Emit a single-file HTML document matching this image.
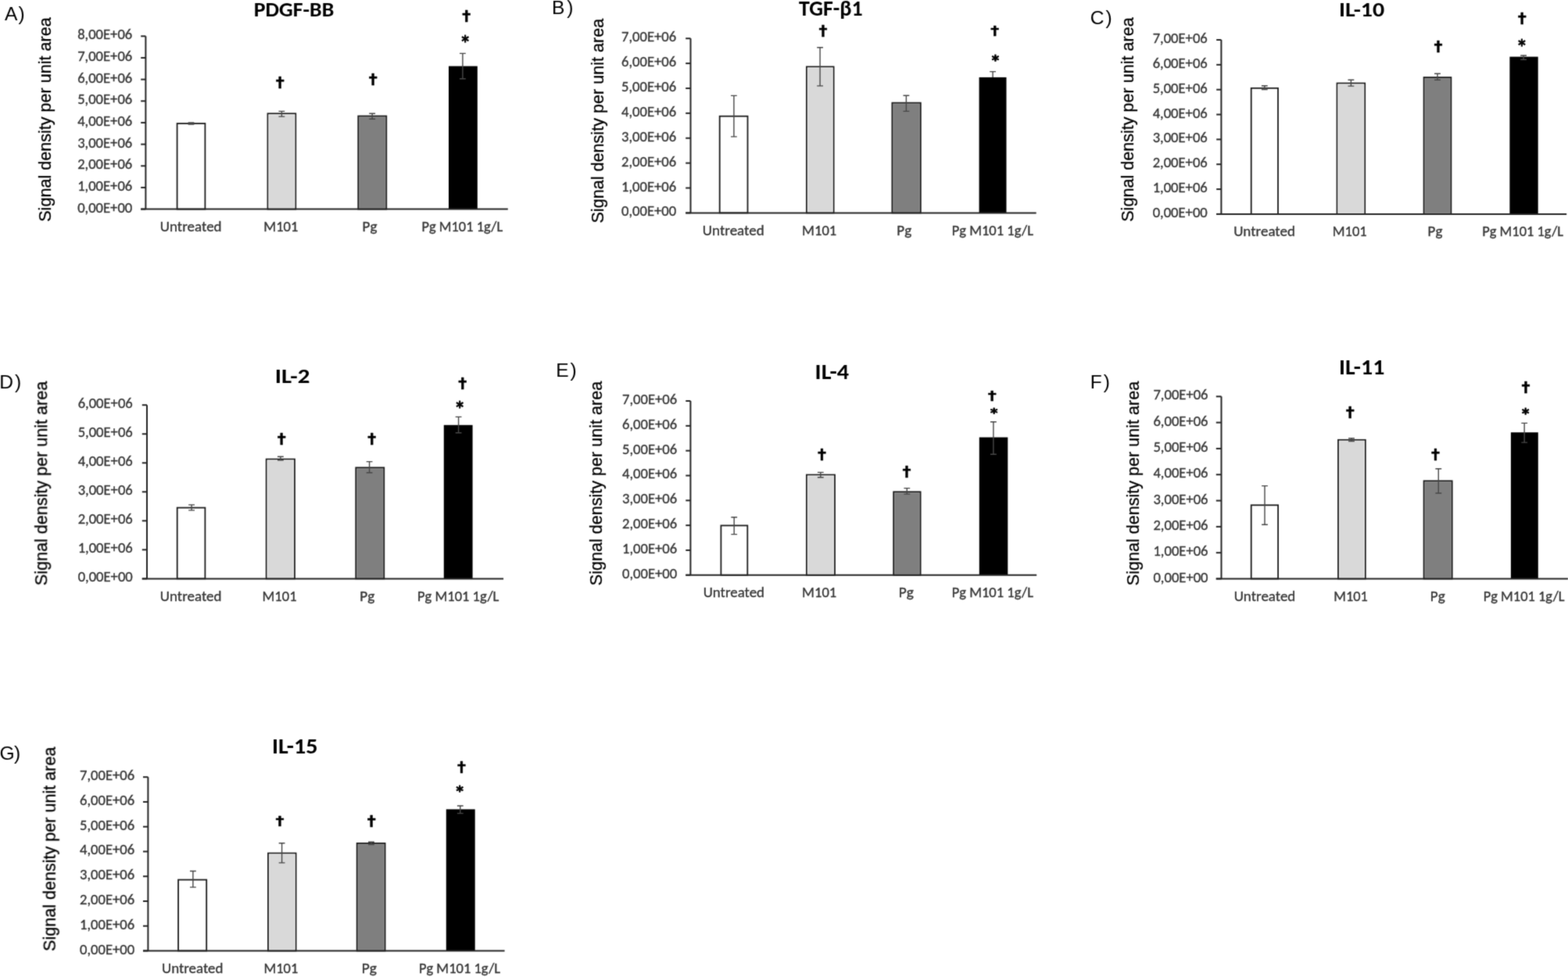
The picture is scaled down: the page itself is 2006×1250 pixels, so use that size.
<!DOCTYPE html>
<html><head><meta charset="utf-8"><title>Signal density charts</title>
<style>html,body{margin:0;padding:0;background:#fff;}svg{display:block;}</style></head>
<body><svg width="2006" height="1250" viewBox="0 0 2006 1250">
<defs><filter id="soft" x="0" y="0" width="2006" height="1250" filterUnits="userSpaceOnUse" color-interpolation-filters="sRGB"><feConvolveMatrix order="3" kernelMatrix="0.0225 0.1050 0.0225 0.1050 0.4900 0.1050 0.0225 0.1050 0.0225" edgeMode="none"/></filter></defs>
<rect x="0" y="0" width="2006" height="1250" fill="#fff"/>
<g filter="url(#soft)">
<text x="6.10" y="25.60" font-family='"Liberation Sans", sans-serif' font-size="24.6" fill="#000">A<tspan dx="1.0">)</tspan></text>
<text x="324.71" y="21.03" font-family='"Carlito", "Liberation Sans", sans-serif' font-weight="bold" font-size="26.72" fill="#000" textLength="102.60" lengthAdjust="spacingAndGlyphs">PDGF-BB</text>
<text transform="translate(64.59,283.78) rotate(-90)" x="0" y="0" font-family='"Liberation Sans", sans-serif' font-size="22.45" fill="#000" stroke="#000" stroke-width="0.3" textLength="261.55" lengthAdjust="spacingAndGlyphs">Signal density per unit area</text>
<text x="99.14" y="271.60" font-family='"Carlito", "Liberation Sans", sans-serif' font-weight="normal" font-size="18.60" fill="#383838" stroke="#383838" stroke-width="0.35" textLength="70.12" lengthAdjust="spacingAndGlyphs">0,00E+00</text>
<text x="99.14" y="243.94" font-family='"Carlito", "Liberation Sans", sans-serif' font-weight="normal" font-size="18.60" fill="#383838" stroke="#383838" stroke-width="0.35" textLength="70.12" lengthAdjust="spacingAndGlyphs">1,00E+06</text>
<text x="99.14" y="216.28" font-family='"Carlito", "Liberation Sans", sans-serif' font-weight="normal" font-size="18.60" fill="#383838" stroke="#383838" stroke-width="0.35" textLength="70.12" lengthAdjust="spacingAndGlyphs">2,00E+06</text>
<text x="99.14" y="188.61" font-family='"Carlito", "Liberation Sans", sans-serif' font-weight="normal" font-size="18.60" fill="#383838" stroke="#383838" stroke-width="0.35" textLength="70.12" lengthAdjust="spacingAndGlyphs">3,00E+06</text>
<text x="99.14" y="160.95" font-family='"Carlito", "Liberation Sans", sans-serif' font-weight="normal" font-size="18.60" fill="#383838" stroke="#383838" stroke-width="0.35" textLength="70.12" lengthAdjust="spacingAndGlyphs">4,00E+06</text>
<text x="99.14" y="133.29" font-family='"Carlito", "Liberation Sans", sans-serif' font-weight="normal" font-size="18.60" fill="#383838" stroke="#383838" stroke-width="0.35" textLength="70.12" lengthAdjust="spacingAndGlyphs">5,00E+06</text>
<text x="99.14" y="105.62" font-family='"Carlito", "Liberation Sans", sans-serif' font-weight="normal" font-size="18.60" fill="#383838" stroke="#383838" stroke-width="0.35" textLength="70.12" lengthAdjust="spacingAndGlyphs">6,00E+06</text>
<text x="99.14" y="77.96" font-family='"Carlito", "Liberation Sans", sans-serif' font-weight="normal" font-size="18.60" fill="#383838" stroke="#383838" stroke-width="0.35" textLength="70.12" lengthAdjust="spacingAndGlyphs">7,00E+06</text>
<text x="99.14" y="50.30" font-family='"Carlito", "Liberation Sans", sans-serif' font-weight="normal" font-size="18.60" fill="#383838" stroke="#383838" stroke-width="0.35" textLength="70.12" lengthAdjust="spacingAndGlyphs">8,00E+06</text>
<text x="204.87" y="296.10" font-family='"Carlito", "Liberation Sans", sans-serif' font-weight="normal" font-size="18.90" fill="#383838" stroke="#383838" stroke-width="0.35" textLength="78.71" lengthAdjust="spacingAndGlyphs">Untreated</text>
<text x="337.31" y="296.10" font-family='"Carlito", "Liberation Sans", sans-serif' font-weight="normal" font-size="18.90" fill="#383838" stroke="#383838" stroke-width="0.35" textLength="44.13" lengthAdjust="spacingAndGlyphs">M101</text>
<text x="463.56" y="296.10" font-family='"Carlito", "Liberation Sans", sans-serif' font-weight="normal" font-size="18.90" fill="#383838" stroke="#383838" stroke-width="0.35" textLength="18.87" lengthAdjust="spacingAndGlyphs">Pg</text>
<text x="539.41" y="296.10" font-family='"Carlito", "Liberation Sans", sans-serif' font-weight="normal" font-size="18.90" fill="#383838" stroke="#383838" stroke-width="0.35" textLength="103.76" lengthAdjust="spacingAndGlyphs">Pg M101 1g/L</text>
<rect x="226.60" y="158.00" width="35.80" height="109.60" fill="#ffffff" stroke="#1c1c1c" stroke-width="1.8"/>
<rect x="342.50" y="145.30" width="35.80" height="122.30" fill="#d9d9d9" stroke="#1c1c1c" stroke-width="1.8"/>
<rect x="344.00" y="146.80" width="32.80" height="119.30" fill="none" stroke="#e4e4e4" stroke-width="1.1"/>
<rect x="458.30" y="148.50" width="36.00" height="119.10" fill="#7f7f7f" stroke="#1c1c1c" stroke-width="1.8"/>
<rect x="459.80" y="150.00" width="33.00" height="116.10" fill="none" stroke="#8b8b8b" stroke-width="1.1"/>
<rect x="574.00" y="84.60" width="36.80" height="183.00" fill="#000"/>
<path d="M186.40 46.30 V267.60" stroke="#262626" stroke-width="2.0" fill="none"/>
<path d="M180.20 267.60 H186.40" stroke="#262626" stroke-width="2.0"/>
<path d="M180.20 239.94 H186.40" stroke="#262626" stroke-width="2.0"/>
<path d="M180.20 212.28 H186.40" stroke="#262626" stroke-width="2.0"/>
<path d="M180.20 184.61 H186.40" stroke="#262626" stroke-width="2.0"/>
<path d="M180.20 156.95 H186.40" stroke="#262626" stroke-width="2.0"/>
<path d="M180.20 129.29 H186.40" stroke="#262626" stroke-width="2.0"/>
<path d="M180.20 101.62 H186.40" stroke="#262626" stroke-width="2.0"/>
<path d="M180.20 73.96 H186.40" stroke="#262626" stroke-width="2.0"/>
<path d="M180.20 46.30 H186.40" stroke="#262626" stroke-width="2.0"/>
<path d="M180.20 267.60 H649.80" stroke="#262626" stroke-width="2.0"/>
<path d="M244.50 157.00 V159.00 M240.60 157.00 H248.40 M240.60 159.00 H248.40" stroke="#474747" stroke-width="1.4" fill="none"/>
<path d="M360.40 142.40 V149.10 M356.50 142.40 H364.30 M356.50 149.10 H364.30" stroke="#474747" stroke-width="1.4" fill="none"/>
<path d="M476.20 145.30 V152.30 M472.30 145.30 H480.10 M472.30 152.30 H480.10" stroke="#474747" stroke-width="1.4" fill="none"/>
<path d="M591.90 68.40 V100.80 M588.00 68.40 H595.80 M588.00 100.80 H595.80" stroke="#474747" stroke-width="1.4" fill="none"/>
<text x="352.79" y="113.40" font-family='"Roboto", "DejaVu Sans", sans-serif' font-weight="bold" font-size="19.86" fill="#000" stroke="#000" stroke-width="0.4" stroke-linejoin="round" textLength="10.99" lengthAdjust="spacingAndGlyphs">†</text>
<text x="471.69" y="108.60" font-family='"Roboto", "DejaVu Sans", sans-serif' font-weight="bold" font-size="19.86" fill="#000" stroke="#000" stroke-width="0.4" stroke-linejoin="round" textLength="10.99" lengthAdjust="spacingAndGlyphs">†</text>
<text x="591.29" y="28.00" font-family='"Roboto", "DejaVu Sans", sans-serif' font-weight="bold" font-size="20.28" fill="#000" stroke="#000" stroke-width="0.4" stroke-linejoin="round" textLength="10.99" lengthAdjust="spacingAndGlyphs">†</text>
<text x="590.54" y="59.20" font-family='"DejaVu Sans", sans-serif' font-weight="bold" font-size="20.00" fill="#000" stroke="#000" stroke-width="0.8" stroke-linejoin="round" textLength="9.37" lengthAdjust="spacingAndGlyphs">*</text>
<text x="706.03" y="18.00" font-family='"Liberation Sans", sans-serif' font-size="24.6" fill="#000">B<tspan dx="2.8">)</tspan></text>
<text x="1022.12" y="19.60" font-family='"Carlito", "Liberation Sans", sans-serif' font-weight="bold" font-size="27.48" fill="#000" textLength="81.59" lengthAdjust="spacingAndGlyphs">TGF-β1</text>
<text transform="translate(771.79,285.58) rotate(-90)" x="0" y="0" font-family='"Liberation Sans", sans-serif' font-size="22.45" fill="#000" stroke="#000" stroke-width="0.3" textLength="261.85" lengthAdjust="spacingAndGlyphs">Signal density per unit area</text>
<text x="795.04" y="276.40" font-family='"Carlito", "Liberation Sans", sans-serif' font-weight="normal" font-size="18.60" fill="#383838" stroke="#383838" stroke-width="0.35" textLength="70.12" lengthAdjust="spacingAndGlyphs">0,00E+00</text>
<text x="795.04" y="244.51" font-family='"Carlito", "Liberation Sans", sans-serif' font-weight="normal" font-size="18.60" fill="#383838" stroke="#383838" stroke-width="0.35" textLength="70.12" lengthAdjust="spacingAndGlyphs">1,00E+06</text>
<text x="795.04" y="212.63" font-family='"Carlito", "Liberation Sans", sans-serif' font-weight="normal" font-size="18.60" fill="#383838" stroke="#383838" stroke-width="0.35" textLength="70.12" lengthAdjust="spacingAndGlyphs">2,00E+06</text>
<text x="795.04" y="180.74" font-family='"Carlito", "Liberation Sans", sans-serif' font-weight="normal" font-size="18.60" fill="#383838" stroke="#383838" stroke-width="0.35" textLength="70.12" lengthAdjust="spacingAndGlyphs">3,00E+06</text>
<text x="795.04" y="148.86" font-family='"Carlito", "Liberation Sans", sans-serif' font-weight="normal" font-size="18.60" fill="#383838" stroke="#383838" stroke-width="0.35" textLength="70.12" lengthAdjust="spacingAndGlyphs">4,00E+06</text>
<text x="795.04" y="116.97" font-family='"Carlito", "Liberation Sans", sans-serif' font-weight="normal" font-size="18.60" fill="#383838" stroke="#383838" stroke-width="0.35" textLength="70.12" lengthAdjust="spacingAndGlyphs">5,00E+06</text>
<text x="795.04" y="85.09" font-family='"Carlito", "Liberation Sans", sans-serif' font-weight="normal" font-size="18.60" fill="#383838" stroke="#383838" stroke-width="0.35" textLength="70.12" lengthAdjust="spacingAndGlyphs">6,00E+06</text>
<text x="795.04" y="53.20" font-family='"Carlito", "Liberation Sans", sans-serif' font-weight="normal" font-size="18.60" fill="#383838" stroke="#383838" stroke-width="0.35" textLength="70.12" lengthAdjust="spacingAndGlyphs">7,00E+06</text>
<text x="898.87" y="300.60" font-family='"Carlito", "Liberation Sans", sans-serif' font-weight="normal" font-size="18.90" fill="#383838" stroke="#383838" stroke-width="0.35" textLength="78.81" lengthAdjust="spacingAndGlyphs">Untreated</text>
<text x="1026.11" y="300.60" font-family='"Carlito", "Liberation Sans", sans-serif' font-weight="normal" font-size="18.90" fill="#383838" stroke="#383838" stroke-width="0.35" textLength="44.13" lengthAdjust="spacingAndGlyphs">M101</text>
<text x="1147.36" y="300.60" font-family='"Carlito", "Liberation Sans", sans-serif' font-weight="normal" font-size="18.90" fill="#383838" stroke="#383838" stroke-width="0.35" textLength="18.87" lengthAdjust="spacingAndGlyphs">Pg</text>
<text x="1217.70" y="300.60" font-family='"Carlito", "Liberation Sans", sans-serif' font-weight="normal" font-size="18.90" fill="#383838" stroke="#383838" stroke-width="0.35" textLength="104.27" lengthAdjust="spacingAndGlyphs">Pg M101 1g/L</text>
<rect x="920.70" y="148.70" width="35.80" height="123.70" fill="#ffffff" stroke="#1c1c1c" stroke-width="1.8"/>
<rect x="1031.90" y="85.40" width="34.70" height="187.00" fill="#d9d9d9" stroke="#1c1c1c" stroke-width="1.8"/>
<rect x="1033.40" y="86.90" width="31.70" height="184.00" fill="none" stroke="#e4e4e4" stroke-width="1.1"/>
<rect x="1141.40" y="131.60" width="36.40" height="140.80" fill="#7f7f7f" stroke="#1c1c1c" stroke-width="1.8"/>
<rect x="1142.90" y="133.10" width="33.40" height="137.80" fill="none" stroke="#8b8b8b" stroke-width="1.1"/>
<rect x="1252.60" y="98.90" width="34.90" height="173.50" fill="#000"/>
<path d="M883.50 49.20 V272.40" stroke="#262626" stroke-width="2.0" fill="none"/>
<path d="M877.20 272.40 H883.50" stroke="#262626" stroke-width="2.0"/>
<path d="M877.20 240.51 H883.50" stroke="#262626" stroke-width="2.0"/>
<path d="M877.20 208.63 H883.50" stroke="#262626" stroke-width="2.0"/>
<path d="M877.20 176.74 H883.50" stroke="#262626" stroke-width="2.0"/>
<path d="M877.20 144.86 H883.50" stroke="#262626" stroke-width="2.0"/>
<path d="M877.20 112.97 H883.50" stroke="#262626" stroke-width="2.0"/>
<path d="M877.20 81.09 H883.50" stroke="#262626" stroke-width="2.0"/>
<path d="M877.20 49.20 H883.50" stroke="#262626" stroke-width="2.0"/>
<path d="M877.20 272.40 H1325.70" stroke="#262626" stroke-width="2.0"/>
<path d="M938.90 122.40 V174.90 M935.00 122.40 H942.80 M935.00 174.90 H942.80" stroke="#474747" stroke-width="1.4" fill="none"/>
<path d="M1049.10 60.80 V109.90 M1045.20 60.80 H1053.00 M1045.20 109.90 H1053.00" stroke="#474747" stroke-width="1.4" fill="none"/>
<path d="M1159.40 122.30 V142.40 M1155.50 122.30 H1163.30 M1155.50 142.40 H1163.30" stroke="#474747" stroke-width="1.4" fill="none"/>
<path d="M1270.10 91.60 V98.90 M1266.20 91.60 H1274.00" stroke="#474747" stroke-width="1.4" fill="none"/>
<text x="1047.49" y="46.60" font-family='"Roboto", "DejaVu Sans", sans-serif' font-weight="bold" font-size="19.44" fill="#000" stroke="#000" stroke-width="0.4" stroke-linejoin="round" textLength="10.99" lengthAdjust="spacingAndGlyphs">†</text>
<text x="1267.29" y="46.40" font-family='"Roboto", "DejaVu Sans", sans-serif' font-weight="bold" font-size="19.17" fill="#000" stroke="#000" stroke-width="0.4" stroke-linejoin="round" textLength="10.99" lengthAdjust="spacingAndGlyphs">†</text>
<text x="1268.74" y="83.16" font-family='"DejaVu Sans", sans-serif' font-weight="bold" font-size="18.09" fill="#000" stroke="#000" stroke-width="0.8" stroke-linejoin="round" textLength="9.37" lengthAdjust="spacingAndGlyphs">*</text>
<text x="1394.77" y="30.60" font-family='"Liberation Sans", sans-serif' font-size="24.6" fill="#000">C<tspan dx="2.0">)</tspan></text>
<text x="1712.90" y="21.33" font-family='"Carlito", "Liberation Sans", sans-serif' font-weight="bold" font-size="26.87" fill="#000" textLength="58.39" lengthAdjust="spacingAndGlyphs">IL-10</text>
<text transform="translate(1450.29,283.78) rotate(-90)" x="0" y="0" font-family='"Liberation Sans", sans-serif' font-size="22.45" fill="#000" stroke="#000" stroke-width="0.3" textLength="261.55" lengthAdjust="spacingAndGlyphs">Signal density per unit area</text>
<text x="1474.64" y="277.90" font-family='"Carlito", "Liberation Sans", sans-serif' font-weight="normal" font-size="18.60" fill="#383838" stroke="#383838" stroke-width="0.35" textLength="70.12" lengthAdjust="spacingAndGlyphs">0,00E+00</text>
<text x="1474.64" y="246.06" font-family='"Carlito", "Liberation Sans", sans-serif' font-weight="normal" font-size="18.60" fill="#383838" stroke="#383838" stroke-width="0.35" textLength="70.12" lengthAdjust="spacingAndGlyphs">1,00E+06</text>
<text x="1474.64" y="214.21" font-family='"Carlito", "Liberation Sans", sans-serif' font-weight="normal" font-size="18.60" fill="#383838" stroke="#383838" stroke-width="0.35" textLength="70.12" lengthAdjust="spacingAndGlyphs">2,00E+06</text>
<text x="1474.64" y="182.37" font-family='"Carlito", "Liberation Sans", sans-serif' font-weight="normal" font-size="18.60" fill="#383838" stroke="#383838" stroke-width="0.35" textLength="70.12" lengthAdjust="spacingAndGlyphs">3,00E+06</text>
<text x="1474.64" y="150.53" font-family='"Carlito", "Liberation Sans", sans-serif' font-weight="normal" font-size="18.60" fill="#383838" stroke="#383838" stroke-width="0.35" textLength="70.12" lengthAdjust="spacingAndGlyphs">4,00E+06</text>
<text x="1474.64" y="118.69" font-family='"Carlito", "Liberation Sans", sans-serif' font-weight="normal" font-size="18.60" fill="#383838" stroke="#383838" stroke-width="0.35" textLength="70.12" lengthAdjust="spacingAndGlyphs">5,00E+06</text>
<text x="1474.64" y="86.84" font-family='"Carlito", "Liberation Sans", sans-serif' font-weight="normal" font-size="18.60" fill="#383838" stroke="#383838" stroke-width="0.35" textLength="70.12" lengthAdjust="spacingAndGlyphs">6,00E+06</text>
<text x="1474.64" y="55.00" font-family='"Carlito", "Liberation Sans", sans-serif' font-weight="normal" font-size="18.60" fill="#383838" stroke="#383838" stroke-width="0.35" textLength="70.12" lengthAdjust="spacingAndGlyphs">7,00E+06</text>
<text x="1578.17" y="301.60" font-family='"Carlito", "Liberation Sans", sans-serif' font-weight="normal" font-size="18.90" fill="#383838" stroke="#383838" stroke-width="0.35" textLength="78.81" lengthAdjust="spacingAndGlyphs">Untreated</text>
<text x="1704.82" y="301.60" font-family='"Carlito", "Liberation Sans", sans-serif' font-weight="normal" font-size="18.90" fill="#383838" stroke="#383838" stroke-width="0.35" textLength="43.92" lengthAdjust="spacingAndGlyphs">M101</text>
<text x="1826.57" y="301.60" font-family='"Carlito", "Liberation Sans", sans-serif' font-weight="normal" font-size="18.90" fill="#383838" stroke="#383838" stroke-width="0.35" textLength="18.76" lengthAdjust="spacingAndGlyphs">Pg</text>
<text x="1896.21" y="301.60" font-family='"Carlito", "Liberation Sans", sans-serif' font-weight="normal" font-size="18.90" fill="#383838" stroke="#383838" stroke-width="0.35" textLength="103.86" lengthAdjust="spacingAndGlyphs">Pg M101 1g/L</text>
<rect x="1600.70" y="112.80" width="34.30" height="161.10" fill="#ffffff" stroke="#1c1c1c" stroke-width="1.8"/>
<rect x="1710.50" y="106.50" width="35.70" height="167.40" fill="#d9d9d9" stroke="#1c1c1c" stroke-width="1.8"/>
<rect x="1712.00" y="108.00" width="32.70" height="164.40" fill="none" stroke="#e4e4e4" stroke-width="1.1"/>
<rect x="1821.60" y="99.00" width="34.80" height="174.90" fill="#7f7f7f" stroke="#1c1c1c" stroke-width="1.8"/>
<rect x="1823.10" y="100.50" width="31.80" height="171.90" fill="none" stroke="#8b8b8b" stroke-width="1.1"/>
<rect x="1931.40" y="72.60" width="36.30" height="201.30" fill="#000"/>
<path d="M1562.40 51.00 V273.90" stroke="#262626" stroke-width="2.0" fill="none"/>
<path d="M1556.20 273.90 H1562.40" stroke="#262626" stroke-width="2.0"/>
<path d="M1556.20 242.06 H1562.40" stroke="#262626" stroke-width="2.0"/>
<path d="M1556.20 210.21 H1562.40" stroke="#262626" stroke-width="2.0"/>
<path d="M1556.20 178.37 H1562.40" stroke="#262626" stroke-width="2.0"/>
<path d="M1556.20 146.53 H1562.40" stroke="#262626" stroke-width="2.0"/>
<path d="M1556.20 114.69 H1562.40" stroke="#262626" stroke-width="2.0"/>
<path d="M1556.20 82.84 H1562.40" stroke="#262626" stroke-width="2.0"/>
<path d="M1556.20 51.00 H1562.40" stroke="#262626" stroke-width="2.0"/>
<path d="M1556.20 273.90 H2004.20" stroke="#262626" stroke-width="2.0"/>
<path d="M1617.80 109.80 V114.60 M1613.90 109.80 H1621.70 M1613.90 114.60 H1621.70" stroke="#474747" stroke-width="1.4" fill="none"/>
<path d="M1728.40 102.20 V110.10 M1724.50 102.20 H1732.30 M1724.50 110.10 H1732.30" stroke="#474747" stroke-width="1.4" fill="none"/>
<path d="M1839.00 94.20 V102.20 M1835.10 94.20 H1842.90 M1835.10 102.20 H1842.90" stroke="#474747" stroke-width="1.4" fill="none"/>
<path d="M1949.10 71.00 V76.20 M1945.20 71.00 H1953.00 M1945.20 76.20 H1953.00" stroke="#474747" stroke-width="1.4" fill="none"/>
<text x="1834.59" y="67.00" font-family='"Roboto", "DejaVu Sans", sans-serif' font-weight="bold" font-size="20.28" fill="#000" stroke="#000" stroke-width="0.4" stroke-linejoin="round" textLength="10.99" lengthAdjust="spacingAndGlyphs">†</text>
<text x="1941.89" y="31.20" font-family='"Roboto", "DejaVu Sans", sans-serif' font-weight="bold" font-size="20.00" fill="#000" stroke="#000" stroke-width="0.4" stroke-linejoin="round" textLength="10.99" lengthAdjust="spacingAndGlyphs">†</text>
<text x="1942.34" y="63.76" font-family='"DejaVu Sans", sans-serif' font-weight="bold" font-size="19.15" fill="#000" stroke="#000" stroke-width="0.8" stroke-linejoin="round" textLength="9.37" lengthAdjust="spacingAndGlyphs">*</text>
<text x="-0.77" y="497.20" font-family='"Liberation Sans", sans-serif' font-size="24.6" fill="#000">D<tspan dx="2.0">)</tspan></text>
<text x="351.73" y="489.70" font-family='"Carlito", "Liberation Sans", sans-serif' font-weight="bold" font-size="26.52" fill="#000" textLength="44.69" lengthAdjust="spacingAndGlyphs">IL-2</text>
<text transform="translate(60.17,749.18) rotate(-90)" x="0" y="0" font-family='"Liberation Sans", sans-serif' font-size="22.98" fill="#000" stroke="#000" stroke-width="0.3" textLength="261.55" lengthAdjust="spacingAndGlyphs">Signal density per unit area</text>
<text x="99.64" y="744.40" font-family='"Carlito", "Liberation Sans", sans-serif' font-weight="normal" font-size="18.60" fill="#383838" stroke="#383838" stroke-width="0.35" textLength="70.12" lengthAdjust="spacingAndGlyphs">0,00E+00</text>
<text x="99.64" y="707.37" font-family='"Carlito", "Liberation Sans", sans-serif' font-weight="normal" font-size="18.60" fill="#383838" stroke="#383838" stroke-width="0.35" textLength="70.12" lengthAdjust="spacingAndGlyphs">1,00E+06</text>
<text x="99.64" y="670.33" font-family='"Carlito", "Liberation Sans", sans-serif' font-weight="normal" font-size="18.60" fill="#383838" stroke="#383838" stroke-width="0.35" textLength="70.12" lengthAdjust="spacingAndGlyphs">2,00E+06</text>
<text x="99.64" y="633.30" font-family='"Carlito", "Liberation Sans", sans-serif' font-weight="normal" font-size="18.60" fill="#383838" stroke="#383838" stroke-width="0.35" textLength="70.12" lengthAdjust="spacingAndGlyphs">3,00E+06</text>
<text x="99.64" y="596.27" font-family='"Carlito", "Liberation Sans", sans-serif' font-weight="normal" font-size="18.60" fill="#383838" stroke="#383838" stroke-width="0.35" textLength="70.12" lengthAdjust="spacingAndGlyphs">4,00E+06</text>
<text x="99.64" y="559.23" font-family='"Carlito", "Liberation Sans", sans-serif' font-weight="normal" font-size="18.60" fill="#383838" stroke="#383838" stroke-width="0.35" textLength="70.12" lengthAdjust="spacingAndGlyphs">5,00E+06</text>
<text x="99.64" y="522.20" font-family='"Carlito", "Liberation Sans", sans-serif' font-weight="normal" font-size="18.60" fill="#383838" stroke="#383838" stroke-width="0.35" textLength="70.12" lengthAdjust="spacingAndGlyphs">6,00E+06</text>
<text x="204.87" y="769.10" font-family='"Carlito", "Liberation Sans", sans-serif' font-weight="normal" font-size="18.90" fill="#383838" stroke="#383838" stroke-width="0.35" textLength="78.61" lengthAdjust="spacingAndGlyphs">Untreated</text>
<text x="335.52" y="769.10" font-family='"Carlito", "Liberation Sans", sans-serif' font-weight="normal" font-size="18.90" fill="#383838" stroke="#383838" stroke-width="0.35" textLength="44.03" lengthAdjust="spacingAndGlyphs">M101</text>
<text x="460.35" y="769.10" font-family='"Carlito", "Liberation Sans", sans-serif' font-weight="normal" font-size="18.90" fill="#383838" stroke="#383838" stroke-width="0.35" textLength="19.09" lengthAdjust="spacingAndGlyphs">Pg</text>
<text x="533.90" y="769.10" font-family='"Carlito", "Liberation Sans", sans-serif' font-weight="normal" font-size="18.90" fill="#383838" stroke="#383838" stroke-width="0.35" textLength="104.47" lengthAdjust="spacingAndGlyphs">Pg M101 1g/L</text>
<rect x="226.70" y="649.60" width="35.70" height="90.80" fill="#ffffff" stroke="#1c1c1c" stroke-width="1.8"/>
<rect x="340.70" y="587.50" width="36.30" height="152.90" fill="#d9d9d9" stroke="#1c1c1c" stroke-width="1.8"/>
<rect x="342.20" y="589.00" width="33.30" height="149.90" fill="none" stroke="#e4e4e4" stroke-width="1.1"/>
<rect x="455.30" y="598.30" width="36.00" height="142.10" fill="#7f7f7f" stroke="#1c1c1c" stroke-width="1.8"/>
<rect x="456.80" y="599.80" width="33.00" height="139.10" fill="none" stroke="#8b8b8b" stroke-width="1.1"/>
<rect x="567.80" y="543.80" width="36.80" height="196.60" fill="#000"/>
<path d="M188.00 518.20 V740.40" stroke="#262626" stroke-width="2.0" fill="none"/>
<path d="M181.80 740.40 H188.00" stroke="#262626" stroke-width="2.0"/>
<path d="M181.80 703.37 H188.00" stroke="#262626" stroke-width="2.0"/>
<path d="M181.80 666.33 H188.00" stroke="#262626" stroke-width="2.0"/>
<path d="M181.80 629.30 H188.00" stroke="#262626" stroke-width="2.0"/>
<path d="M181.80 592.27 H188.00" stroke="#262626" stroke-width="2.0"/>
<path d="M181.80 555.23 H188.00" stroke="#262626" stroke-width="2.0"/>
<path d="M181.80 518.20 H188.00" stroke="#262626" stroke-width="2.0"/>
<path d="M181.80 740.40 H644.10" stroke="#262626" stroke-width="2.0"/>
<path d="M245.10 645.90 V652.90 M241.20 645.90 H249.00 M241.20 652.90 H249.00" stroke="#474747" stroke-width="1.4" fill="none"/>
<path d="M358.90 584.20 V588.70 M355.00 584.20 H362.80 M355.00 588.70 H362.80" stroke="#474747" stroke-width="1.4" fill="none"/>
<path d="M472.60 590.60 V604.70 M468.70 590.60 H476.50 M468.70 604.70 H476.50" stroke="#474747" stroke-width="1.4" fill="none"/>
<path d="M586.60 533.40 V553.80 M582.70 533.40 H590.50 M582.70 553.80 H590.50" stroke="#474747" stroke-width="1.4" fill="none"/>
<text x="354.89" y="569.30" font-family='"Roboto", "DejaVu Sans", sans-serif' font-weight="bold" font-size="19.86" fill="#000" stroke="#000" stroke-width="0.4" stroke-linejoin="round" textLength="10.99" lengthAdjust="spacingAndGlyphs">†</text>
<text x="470.29" y="569.30" font-family='"Roboto", "DejaVu Sans", sans-serif' font-weight="bold" font-size="19.86" fill="#000" stroke="#000" stroke-width="0.4" stroke-linejoin="round" textLength="10.99" lengthAdjust="spacingAndGlyphs">†</text>
<text x="586.29" y="498.00" font-family='"Roboto", "DejaVu Sans", sans-serif' font-weight="bold" font-size="20.00" fill="#000" stroke="#000" stroke-width="0.4" stroke-linejoin="round" textLength="10.99" lengthAdjust="spacingAndGlyphs">†</text>
<text x="583.44" y="527.04" font-family='"DejaVu Sans", sans-serif' font-weight="bold" font-size="18.72" fill="#000" stroke="#000" stroke-width="0.8" stroke-linejoin="round" textLength="9.37" lengthAdjust="spacingAndGlyphs">*</text>
<text x="711.23" y="481.80" font-family='"Liberation Sans", sans-serif' font-size="24.6" fill="#000">E<tspan dx="1.8">)</tspan></text>
<text x="1042.58" y="484.90" font-family='"Carlito", "Liberation Sans", sans-serif' font-weight="bold" font-size="27.54" fill="#000" textLength="43.50" lengthAdjust="spacingAndGlyphs">IL-4</text>
<text transform="translate(769.70,749.18) rotate(-90)" x="0" y="0" font-family='"Liberation Sans", sans-serif' font-size="22.87" fill="#000" stroke="#000" stroke-width="0.3" textLength="261.35" lengthAdjust="spacingAndGlyphs">Signal density per unit area</text>
<text x="796.04" y="739.80" font-family='"Carlito", "Liberation Sans", sans-serif' font-weight="normal" font-size="18.60" fill="#383838" stroke="#383838" stroke-width="0.35" textLength="70.12" lengthAdjust="spacingAndGlyphs">0,00E+00</text>
<text x="796.04" y="707.97" font-family='"Carlito", "Liberation Sans", sans-serif' font-weight="normal" font-size="18.60" fill="#383838" stroke="#383838" stroke-width="0.35" textLength="70.12" lengthAdjust="spacingAndGlyphs">1,00E+06</text>
<text x="796.04" y="676.14" font-family='"Carlito", "Liberation Sans", sans-serif' font-weight="normal" font-size="18.60" fill="#383838" stroke="#383838" stroke-width="0.35" textLength="70.12" lengthAdjust="spacingAndGlyphs">2,00E+06</text>
<text x="796.04" y="644.31" font-family='"Carlito", "Liberation Sans", sans-serif' font-weight="normal" font-size="18.60" fill="#383838" stroke="#383838" stroke-width="0.35" textLength="70.12" lengthAdjust="spacingAndGlyphs">3,00E+06</text>
<text x="796.04" y="612.49" font-family='"Carlito", "Liberation Sans", sans-serif' font-weight="normal" font-size="18.60" fill="#383838" stroke="#383838" stroke-width="0.35" textLength="70.12" lengthAdjust="spacingAndGlyphs">4,00E+06</text>
<text x="796.04" y="580.66" font-family='"Carlito", "Liberation Sans", sans-serif' font-weight="normal" font-size="18.60" fill="#383838" stroke="#383838" stroke-width="0.35" textLength="70.12" lengthAdjust="spacingAndGlyphs">5,00E+06</text>
<text x="796.04" y="548.83" font-family='"Carlito", "Liberation Sans", sans-serif' font-weight="normal" font-size="18.60" fill="#383838" stroke="#383838" stroke-width="0.35" textLength="70.12" lengthAdjust="spacingAndGlyphs">6,00E+06</text>
<text x="796.04" y="517.00" font-family='"Carlito", "Liberation Sans", sans-serif' font-weight="normal" font-size="18.60" fill="#383838" stroke="#383838" stroke-width="0.35" textLength="70.12" lengthAdjust="spacingAndGlyphs">7,00E+06</text>
<text x="899.68" y="764.20" font-family='"Carlito", "Liberation Sans", sans-serif' font-weight="normal" font-size="18.90" fill="#383838" stroke="#383838" stroke-width="0.35" textLength="78.40" lengthAdjust="spacingAndGlyphs">Untreated</text>
<text x="1026.11" y="764.20" font-family='"Carlito", "Liberation Sans", sans-serif' font-weight="normal" font-size="18.90" fill="#383838" stroke="#383838" stroke-width="0.35" textLength="44.13" lengthAdjust="spacingAndGlyphs">M101</text>
<text x="1149.85" y="764.20" font-family='"Carlito", "Liberation Sans", sans-serif' font-weight="normal" font-size="18.90" fill="#383838" stroke="#383838" stroke-width="0.35" textLength="19.09" lengthAdjust="spacingAndGlyphs">Pg</text>
<text x="1217.70" y="764.20" font-family='"Carlito", "Liberation Sans", sans-serif' font-weight="normal" font-size="18.90" fill="#383838" stroke="#383838" stroke-width="0.35" textLength="104.27" lengthAdjust="spacingAndGlyphs">Pg M101 1g/L</text>
<rect x="922.40" y="672.40" width="33.90" height="63.40" fill="#ffffff" stroke="#1c1c1c" stroke-width="1.8"/>
<rect x="1031.90" y="607.50" width="36.10" height="128.30" fill="#d9d9d9" stroke="#1c1c1c" stroke-width="1.8"/>
<rect x="1033.40" y="609.00" width="33.10" height="125.30" fill="none" stroke="#e4e4e4" stroke-width="1.1"/>
<rect x="1143.20" y="629.30" width="34.40" height="106.50" fill="#7f7f7f" stroke="#1c1c1c" stroke-width="1.8"/>
<rect x="1144.70" y="630.80" width="31.40" height="103.50" fill="none" stroke="#8b8b8b" stroke-width="1.1"/>
<rect x="1252.80" y="559.50" width="36.50" height="176.30" fill="#000"/>
<path d="M883.40 513.00 V735.80" stroke="#262626" stroke-width="2.0" fill="none"/>
<path d="M877.30 735.80 H883.40" stroke="#262626" stroke-width="2.0"/>
<path d="M877.30 703.97 H883.40" stroke="#262626" stroke-width="2.0"/>
<path d="M877.30 672.14 H883.40" stroke="#262626" stroke-width="2.0"/>
<path d="M877.30 640.31 H883.40" stroke="#262626" stroke-width="2.0"/>
<path d="M877.30 608.49 H883.40" stroke="#262626" stroke-width="2.0"/>
<path d="M877.30 576.66 H883.40" stroke="#262626" stroke-width="2.0"/>
<path d="M877.30 544.83 H883.40" stroke="#262626" stroke-width="2.0"/>
<path d="M877.30 513.00 H883.40" stroke="#262626" stroke-width="2.0"/>
<path d="M877.30 735.80 H1326.20" stroke="#262626" stroke-width="2.0"/>
<path d="M939.20 661.70 V683.60 M935.30 661.70 H943.10 M935.30 683.60 H943.10" stroke="#474747" stroke-width="1.4" fill="none"/>
<path d="M1049.80 604.40 V610.70 M1045.90 604.40 H1053.70 M1045.90 610.70 H1053.70" stroke="#474747" stroke-width="1.4" fill="none"/>
<path d="M1160.30 624.60 V632.10 M1156.40 624.60 H1164.20 M1156.40 632.10 H1164.20" stroke="#474747" stroke-width="1.4" fill="none"/>
<path d="M1270.90 539.70 V581.30 M1267.00 539.70 H1274.80 M1267.00 581.30 H1274.80" stroke="#474747" stroke-width="1.4" fill="none"/>
<text x="1045.99" y="589.20" font-family='"Roboto", "DejaVu Sans", sans-serif' font-weight="bold" font-size="20.00" fill="#000" stroke="#000" stroke-width="0.4" stroke-linejoin="round" textLength="10.99" lengthAdjust="spacingAndGlyphs">†</text>
<text x="1154.59" y="610.50" font-family='"Roboto", "DejaVu Sans", sans-serif' font-weight="bold" font-size="19.44" fill="#000" stroke="#000" stroke-width="0.4" stroke-linejoin="round" textLength="10.99" lengthAdjust="spacingAndGlyphs">†</text>
<text x="1263.89" y="513.10" font-family='"Roboto", "DejaVu Sans", sans-serif' font-weight="bold" font-size="18.61" fill="#000" stroke="#000" stroke-width="0.4" stroke-linejoin="round" textLength="10.99" lengthAdjust="spacingAndGlyphs">†</text>
<text x="1267.14" y="534.15" font-family='"DejaVu Sans", sans-serif' font-weight="bold" font-size="16.60" fill="#000" stroke="#000" stroke-width="0.8" stroke-linejoin="round" textLength="9.37" lengthAdjust="spacingAndGlyphs">*</text>
<text x="1394.63" y="497.40" font-family='"Liberation Sans", sans-serif' font-size="24.6" fill="#000">F<tspan dx="2.2">)</tspan></text>
<text x="1713.11" y="478.80" font-family='"Carlito", "Liberation Sans", sans-serif' font-weight="bold" font-size="27.54" fill="#000" textLength="58.18" lengthAdjust="spacingAndGlyphs">IL-11</text>
<text transform="translate(1457.49,749.18) rotate(-90)" x="0" y="0" font-family='"Liberation Sans", sans-serif' font-size="22.45" fill="#000" stroke="#000" stroke-width="0.3" textLength="261.35" lengthAdjust="spacingAndGlyphs">Signal density per unit area</text>
<text x="1475.44" y="744.50" font-family='"Carlito", "Liberation Sans", sans-serif' font-weight="normal" font-size="18.60" fill="#383838" stroke="#383838" stroke-width="0.35" textLength="70.12" lengthAdjust="spacingAndGlyphs">0,00E+00</text>
<text x="1475.44" y="711.19" font-family='"Carlito", "Liberation Sans", sans-serif' font-weight="normal" font-size="18.60" fill="#383838" stroke="#383838" stroke-width="0.35" textLength="70.12" lengthAdjust="spacingAndGlyphs">1,00E+06</text>
<text x="1475.44" y="677.87" font-family='"Carlito", "Liberation Sans", sans-serif' font-weight="normal" font-size="18.60" fill="#383838" stroke="#383838" stroke-width="0.35" textLength="70.12" lengthAdjust="spacingAndGlyphs">2,00E+06</text>
<text x="1475.44" y="644.56" font-family='"Carlito", "Liberation Sans", sans-serif' font-weight="normal" font-size="18.60" fill="#383838" stroke="#383838" stroke-width="0.35" textLength="70.12" lengthAdjust="spacingAndGlyphs">3,00E+06</text>
<text x="1475.44" y="611.24" font-family='"Carlito", "Liberation Sans", sans-serif' font-weight="normal" font-size="18.60" fill="#383838" stroke="#383838" stroke-width="0.35" textLength="70.12" lengthAdjust="spacingAndGlyphs">4,00E+06</text>
<text x="1475.44" y="577.93" font-family='"Carlito", "Liberation Sans", sans-serif' font-weight="normal" font-size="18.60" fill="#383838" stroke="#383838" stroke-width="0.35" textLength="70.12" lengthAdjust="spacingAndGlyphs">5,00E+06</text>
<text x="1475.44" y="544.61" font-family='"Carlito", "Liberation Sans", sans-serif' font-weight="normal" font-size="18.60" fill="#383838" stroke="#383838" stroke-width="0.35" textLength="70.12" lengthAdjust="spacingAndGlyphs">6,00E+06</text>
<text x="1475.44" y="511.30" font-family='"Carlito", "Liberation Sans", sans-serif' font-weight="normal" font-size="18.60" fill="#383838" stroke="#383838" stroke-width="0.35" textLength="70.12" lengthAdjust="spacingAndGlyphs">7,00E+06</text>
<text x="1578.67" y="769.00" font-family='"Carlito", "Liberation Sans", sans-serif' font-weight="normal" font-size="18.90" fill="#383838" stroke="#383838" stroke-width="0.35" textLength="78.71" lengthAdjust="spacingAndGlyphs">Untreated</text>
<text x="1706.34" y="769.00" font-family='"Carlito", "Liberation Sans", sans-serif' font-weight="normal" font-size="18.90" fill="#383838" stroke="#383838" stroke-width="0.35" textLength="43.50" lengthAdjust="spacingAndGlyphs">M101</text>
<text x="1829.86" y="769.00" font-family='"Carlito", "Liberation Sans", sans-serif' font-weight="normal" font-size="18.90" fill="#383838" stroke="#383838" stroke-width="0.35" textLength="18.87" lengthAdjust="spacingAndGlyphs">Pg</text>
<text x="1897.71" y="769.00" font-family='"Carlito", "Liberation Sans", sans-serif' font-weight="normal" font-size="18.90" fill="#383838" stroke="#383838" stroke-width="0.35" textLength="103.86" lengthAdjust="spacingAndGlyphs">Pg M101 1g/L</text>
<rect x="1600.70" y="646.30" width="34.40" height="94.20" fill="#ffffff" stroke="#1c1c1c" stroke-width="1.8"/>
<rect x="1712.00" y="562.80" width="34.80" height="177.70" fill="#d9d9d9" stroke="#1c1c1c" stroke-width="1.8"/>
<rect x="1713.50" y="564.30" width="31.80" height="174.70" fill="none" stroke="#e4e4e4" stroke-width="1.1"/>
<rect x="1821.60" y="615.30" width="36.10" height="125.20" fill="#7f7f7f" stroke="#1c1c1c" stroke-width="1.8"/>
<rect x="1823.10" y="616.80" width="33.10" height="122.20" fill="none" stroke="#8b8b8b" stroke-width="1.1"/>
<rect x="1932.90" y="553.20" width="34.90" height="187.30" fill="#000"/>
<path d="M1562.50 507.30 V740.50" stroke="#262626" stroke-width="2.0" fill="none"/>
<path d="M1555.80 740.50 H1562.50" stroke="#262626" stroke-width="2.0"/>
<path d="M1555.80 707.19 H1562.50" stroke="#262626" stroke-width="2.0"/>
<path d="M1555.80 673.87 H1562.50" stroke="#262626" stroke-width="2.0"/>
<path d="M1555.80 640.56 H1562.50" stroke="#262626" stroke-width="2.0"/>
<path d="M1555.80 607.24 H1562.50" stroke="#262626" stroke-width="2.0"/>
<path d="M1555.80 573.93 H1562.50" stroke="#262626" stroke-width="2.0"/>
<path d="M1555.80 540.61 H1562.50" stroke="#262626" stroke-width="2.0"/>
<path d="M1555.80 507.30 H1562.50" stroke="#262626" stroke-width="2.0"/>
<path d="M1555.80 740.50 H2006.00" stroke="#262626" stroke-width="2.0"/>
<path d="M1618.00 621.60 V671.30 M1614.10 621.60 H1621.90 M1614.10 671.30 H1621.90" stroke="#474747" stroke-width="1.4" fill="none"/>
<path d="M1729.00 560.80 V564.50 M1725.10 560.80 H1732.90 M1725.10 564.50 H1732.90" stroke="#474747" stroke-width="1.4" fill="none"/>
<path d="M1840.30 599.70 V631.00 M1836.40 599.70 H1844.20 M1836.40 631.00 H1844.20" stroke="#474747" stroke-width="1.4" fill="none"/>
<path d="M1950.20 541.40 V566.10 M1946.30 541.40 H1954.10 M1946.30 566.10 H1954.10" stroke="#474747" stroke-width="1.4" fill="none"/>
<text x="1721.89" y="534.80" font-family='"Roboto", "DejaVu Sans", sans-serif' font-weight="bold" font-size="19.31" fill="#000" stroke="#000" stroke-width="0.4" stroke-linejoin="round" textLength="10.99" lengthAdjust="spacingAndGlyphs">†</text>
<text x="1831.09" y="589.00" font-family='"Roboto", "DejaVu Sans", sans-serif' font-weight="bold" font-size="19.31" fill="#000" stroke="#000" stroke-width="0.4" stroke-linejoin="round" textLength="10.99" lengthAdjust="spacingAndGlyphs">†</text>
<text x="1946.49" y="503.10" font-family='"Roboto", "DejaVu Sans", sans-serif' font-weight="bold" font-size="20.42" fill="#000" stroke="#000" stroke-width="0.4" stroke-linejoin="round" textLength="10.99" lengthAdjust="spacingAndGlyphs">†</text>
<text x="1946.94" y="534.92" font-family='"DejaVu Sans", sans-serif' font-weight="bold" font-size="18.30" fill="#000" stroke="#000" stroke-width="0.8" stroke-linejoin="round" textLength="9.37" lengthAdjust="spacingAndGlyphs">*</text>
<text x="-0.63" y="971.80" font-family='"Liberation Sans", sans-serif' font-size="24.6" fill="#000">G<tspan dx="-0.6">)</tspan></text>
<text x="347.99" y="964.03" font-family='"Carlito", "Liberation Sans", sans-serif' font-weight="bold" font-size="27.42" fill="#000" textLength="58.60" lengthAdjust="spacingAndGlyphs">IL-15</text>
<text transform="translate(70.73,1217.08) rotate(-90)" x="0" y="0" font-family='"Liberation Sans", sans-serif' font-size="21.28" fill="#000" stroke="#000" stroke-width="0.3" textLength="261.45" lengthAdjust="spacingAndGlyphs">Signal density per unit area</text>
<text x="102.04" y="1220.50" font-family='"Carlito", "Liberation Sans", sans-serif' font-weight="normal" font-size="18.60" fill="#383838" stroke="#383838" stroke-width="0.35" textLength="70.12" lengthAdjust="spacingAndGlyphs">0,00E+00</text>
<text x="102.04" y="1188.74" font-family='"Carlito", "Liberation Sans", sans-serif' font-weight="normal" font-size="18.60" fill="#383838" stroke="#383838" stroke-width="0.35" textLength="70.12" lengthAdjust="spacingAndGlyphs">1,00E+06</text>
<text x="102.04" y="1156.99" font-family='"Carlito", "Liberation Sans", sans-serif' font-weight="normal" font-size="18.60" fill="#383838" stroke="#383838" stroke-width="0.35" textLength="70.12" lengthAdjust="spacingAndGlyphs">2,00E+06</text>
<text x="102.04" y="1125.23" font-family='"Carlito", "Liberation Sans", sans-serif' font-weight="normal" font-size="18.60" fill="#383838" stroke="#383838" stroke-width="0.35" textLength="70.12" lengthAdjust="spacingAndGlyphs">3,00E+06</text>
<text x="102.04" y="1093.47" font-family='"Carlito", "Liberation Sans", sans-serif' font-weight="normal" font-size="18.60" fill="#383838" stroke="#383838" stroke-width="0.35" textLength="70.12" lengthAdjust="spacingAndGlyphs">4,00E+06</text>
<text x="102.04" y="1061.71" font-family='"Carlito", "Liberation Sans", sans-serif' font-weight="normal" font-size="18.60" fill="#383838" stroke="#383838" stroke-width="0.35" textLength="70.12" lengthAdjust="spacingAndGlyphs">5,00E+06</text>
<text x="102.04" y="1029.96" font-family='"Carlito", "Liberation Sans", sans-serif' font-weight="normal" font-size="18.60" fill="#383838" stroke="#383838" stroke-width="0.35" textLength="70.12" lengthAdjust="spacingAndGlyphs">6,00E+06</text>
<text x="102.04" y="998.20" font-family='"Carlito", "Liberation Sans", sans-serif' font-weight="normal" font-size="18.60" fill="#383838" stroke="#383838" stroke-width="0.35" textLength="70.12" lengthAdjust="spacingAndGlyphs">7,00E+06</text>
<text x="206.97" y="1244.70" font-family='"Carlito", "Liberation Sans", sans-serif' font-weight="normal" font-size="18.90" fill="#383838" stroke="#383838" stroke-width="0.35" textLength="78.50" lengthAdjust="spacingAndGlyphs">Untreated</text>
<text x="337.42" y="1244.70" font-family='"Carlito", "Liberation Sans", sans-serif' font-weight="normal" font-size="18.90" fill="#383838" stroke="#383838" stroke-width="0.35" textLength="43.92" lengthAdjust="spacingAndGlyphs">M101</text>
<text x="462.74" y="1244.70" font-family='"Carlito", "Liberation Sans", sans-serif' font-weight="normal" font-size="18.90" fill="#383838" stroke="#383838" stroke-width="0.35" textLength="19.20" lengthAdjust="spacingAndGlyphs">Pg</text>
<text x="535.90" y="1244.70" font-family='"Carlito", "Liberation Sans", sans-serif' font-weight="normal" font-size="18.90" fill="#383838" stroke="#383838" stroke-width="0.35" textLength="104.27" lengthAdjust="spacingAndGlyphs">Pg M101 1g/L</text>
<rect x="228.10" y="1125.60" width="36.10" height="90.90" fill="#ffffff" stroke="#1c1c1c" stroke-width="1.8"/>
<rect x="343.00" y="1091.60" width="35.60" height="124.90" fill="#d9d9d9" stroke="#1c1c1c" stroke-width="1.8"/>
<rect x="344.50" y="1093.10" width="32.60" height="121.90" fill="none" stroke="#e4e4e4" stroke-width="1.1"/>
<rect x="456.70" y="1078.90" width="35.90" height="137.60" fill="#7f7f7f" stroke="#1c1c1c" stroke-width="1.8"/>
<rect x="458.20" y="1080.40" width="32.90" height="134.60" fill="none" stroke="#8b8b8b" stroke-width="1.1"/>
<rect x="570.80" y="1035.40" width="36.90" height="181.10" fill="#000"/>
<path d="M189.40 994.20 V1216.50" stroke="#262626" stroke-width="2.0" fill="none"/>
<path d="M183.00 1216.50 H189.40" stroke="#262626" stroke-width="2.0"/>
<path d="M183.00 1184.74 H189.40" stroke="#262626" stroke-width="2.0"/>
<path d="M183.00 1152.99 H189.40" stroke="#262626" stroke-width="2.0"/>
<path d="M183.00 1121.23 H189.40" stroke="#262626" stroke-width="2.0"/>
<path d="M183.00 1089.47 H189.40" stroke="#262626" stroke-width="2.0"/>
<path d="M183.00 1057.71 H189.40" stroke="#262626" stroke-width="2.0"/>
<path d="M183.00 1025.96 H189.40" stroke="#262626" stroke-width="2.0"/>
<path d="M183.00 994.20 H189.40" stroke="#262626" stroke-width="2.0"/>
<path d="M183.00 1216.50 H645.60" stroke="#262626" stroke-width="2.0"/>
<path d="M246.90 1114.50 V1135.10 M243.00 1114.50 H250.80 M243.00 1135.10 H250.80" stroke="#474747" stroke-width="1.4" fill="none"/>
<path d="M360.60 1078.80 V1103.90 M356.70 1078.80 H364.50 M356.70 1103.90 H364.50" stroke="#474747" stroke-width="1.4" fill="none"/>
<path d="M475.00 1077.30 V1080.50 M471.10 1077.30 H478.90 M471.10 1080.50 H478.90" stroke="#474747" stroke-width="1.4" fill="none"/>
<path d="M588.80 1031.00 V1040.60 M584.90 1031.00 H592.70 M584.90 1040.60 H592.70" stroke="#474747" stroke-width="1.4" fill="none"/>
<text x="352.49" y="1057.30" font-family='"Roboto", "DejaVu Sans", sans-serif' font-weight="bold" font-size="18.75" fill="#000" stroke="#000" stroke-width="0.4" stroke-linejoin="round" textLength="10.99" lengthAdjust="spacingAndGlyphs">†</text>
<text x="469.79" y="1057.60" font-family='"Roboto", "DejaVu Sans", sans-serif' font-weight="bold" font-size="19.31" fill="#000" stroke="#000" stroke-width="0.4" stroke-linejoin="round" textLength="10.99" lengthAdjust="spacingAndGlyphs">†</text>
<text x="585.09" y="989.20" font-family='"Roboto", "DejaVu Sans", sans-serif' font-weight="bold" font-size="19.44" fill="#000" stroke="#000" stroke-width="0.4" stroke-linejoin="round" textLength="10.99" lengthAdjust="spacingAndGlyphs">†</text>
<text x="583.44" y="1018.32" font-family='"DejaVu Sans", sans-serif' font-weight="bold" font-size="18.30" fill="#000" stroke="#000" stroke-width="0.8" stroke-linejoin="round" textLength="9.37" lengthAdjust="spacingAndGlyphs">*</text>
</g>
</svg></body></html>
